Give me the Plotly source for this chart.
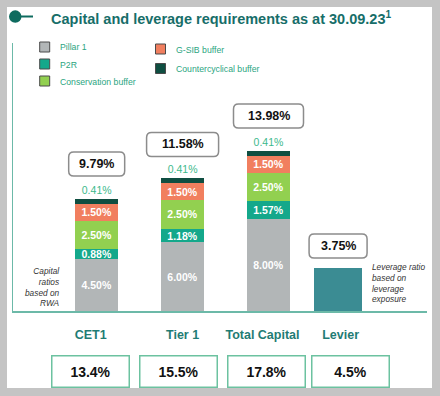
import plotly.graph_objects as go

# ---------------- data ----------------
CATEGORIES = ["CET1", "Tier 1", "Total Capital", "Levier"]
SERIES_NAMES = ["Pillar 1", "P2R", "Conservation buffer", "G-SIB buffer", "Countercyclical buffer"]
PILLAR1 = [4.50, 6.00, 8.00, None]
P2R = [0.88, 1.18, 1.57, None]
CONSERVATION = [2.50, 2.50, 2.50, None]
GSIB = [1.50, 1.50, 1.50, None]
CCYB = [0.41, 0.41, 0.41, None]
LEVERAGE = [None, None, None, 3.75]
TOTALS = [9.79, 11.58, 13.98, 3.75]
ACTUALS = [13.4, 15.5, 17.8, 4.5]
TITLE = "Capital and leverage requirements as at 30.09.23<sup>1</sup>"
NOTE_LEFT = "Capital<br>ratios<br>based on<br>RWA"
NOTE_RIGHT = "Leverage ratio<br>based on<br>leverage<br>exposure"

# ---------------- layout / style ----------------
W, H = 440, 396
L, R, T, B = 13, 13, 43, 85
PW, PH = W - L - R, H - T - B
BASE = H - B


def fx(px):
    return (px - L) / PW


def fy(py):
    return (BASE - py) / PH


X_POS = [0, 1, 2, 2.81]
LABEL_POS = [-0.07, 1.0, 1.93, 2.84]
BOX_POS = [-0.072, 0.958, 1.971, 2.955]
X_RANGE = [-0.974, 3.845]
Y_RANGE = [0, PH / 11.45]
BAR_W = 0.5
LEV_W = 0.56
TOTAL_OFFSETS = [35, 34, 35, 22]
TOTAL_BOX_W = [56, 72, 70, 58]
TOTAL_BOX_H = 24

COLORS = ["#b2b6b7", "#14a88b", "#92d050", "#f17f5f", "#0f4e41"]
LEV_COLOR = "#3b8c93"
TEAL_LINE = "#6cb9a8"
TITLE_COLOR = "#176e69"
LEGEND_TXT = "#2ba57f"
FONT = "Liberation Sans, Arial, sans-serif"


def present(vals):
    xs = [x for x, v in zip(X_POS, vals) if v is not None]
    ys = [v for v in vals if v is not None]
    return xs, ys


fig = go.Figure()

series = [PILLAR1, P2R, CONSERVATION, GSIB]
for name, vals, col in zip(SERIES_NAMES[:4], series, COLORS[:4]):
    xs, ys = present(vals)
    fig.add_trace(go.Bar(
        x=xs, y=ys, name=name, width=BAR_W, marker=dict(color=col, line=dict(width=0)),
        texttemplate="%{y:.2f}%", textposition="inside", insidetextanchor="middle",
        textangle=0, constraintext="none",
        textfont=dict(color="white", size=10.5, family=FONT, weight="bold"),
        showlegend=False, hoverinfo="skip",
    ))

xs, ys = present(CCYB)
fig.add_trace(go.Bar(
    x=xs, y=ys, name=SERIES_NAMES[4], width=BAR_W, marker=dict(color=COLORS[4], line=dict(width=0)),
    texttemplate="%{y:.2f}%", textposition="outside", textangle=0, constraintext="none",
    textfont=dict(color="#3cb98c", size=10.5, family=FONT),
    cliponaxis=False, showlegend=False, hoverinfo="skip",
))

xs, ys = present(LEVERAGE)
fig.add_trace(go.Bar(
    x=xs, y=ys, name="Levier", width=LEV_W, marker=dict(color=LEV_COLOR, line=dict(width=0)),
    showlegend=False, hoverinfo="skip",
))

shapes = []
annotations = []

# white panel
shapes.append(dict(type="rect", xref="paper", yref="paper", x0=fx(7), x1=fx(432), y0=fy(388), y1=fy(7),
                   fillcolor="white", line=dict(width=0), layer="below"))

# title marker
shapes.append(dict(type="line", xref="paper", yref="paper", x0=fx(15), x1=fx(33), y0=fy(16.5), y1=fy(16.5),
                   line=dict(color="#0e6b5f", width=2)))
shapes.append(dict(type="circle", xref="paper", yref="paper", x0=fx(9), x1=fx(21.5), y0=fy(10.3), y1=fy(22.8),
                   fillcolor="#0e6b5f", line=dict(width=0)))
annotations.append(dict(text=TITLE, xref="paper", yref="paper", x=fx(49), y=fy(18.5), xanchor="left",
                        yanchor="middle", showarrow=False,
                        font=dict(family=FONT, size=14.5, color=TITLE_COLOR, weight="bold")))

# manual legend
LEG_PLACES = [(44.7, 47), (44.7, 64), (44.7, 81), (160.5, 49), (160.5, 68.5)]
for name, col, (cx, cy) in zip(SERIES_NAMES, COLORS, LEG_PLACES):
    shapes.append(dict(type="rect", xref="paper", yref="paper", x0=fx(cx - 5), x1=fx(cx + 5),
                       y0=fy(cy + 5), y1=fy(cy - 5), fillcolor=col, line=dict(color="#4a4a4a", width=1)))
    annotations.append(dict(text=name, xref="paper", yref="paper", x=fx(cx + 13.5), y=fy(cy + 0.5),
                            xanchor="left", yanchor="middle", showarrow=False,
                            font=dict(family=FONT, size=8.7, color=LEGEND_TXT)))

# total labels in rounded boxes
for xp, tot, off, bw in zip(X_POS, TOTALS, TOTAL_OFFSETS, TOTAL_BOX_W):
    w2, h2, r = bw / 2, TOTAL_BOX_H / 2, 5
    y0, y1 = off - h2, off + h2
    path = (f"M {-w2 + r},{y0} L {w2 - r},{y0} Q {w2},{y0} {w2},{y0 + r} L {w2},{y1 - r} "
            f"Q {w2},{y1} {w2 - r},{y1} L {-w2 + r},{y1} Q {-w2},{y1} {-w2},{y1 - r} "
            f"L {-w2},{y0 + r} Q {-w2},{y0} {-w2 + r},{y0} Z")
    shapes.append(dict(type="path", xref="x", yref="y", xsizemode="pixel", ysizemode="pixel",
                       xanchor=xp, yanchor=tot, path=path, fillcolor="white",
                       line=dict(color="#8c8c8c", width=1.5)))
    annotations.append(dict(text=f"{tot:.2f}%", x=xp, y=tot, xref="x", yref="y", yshift=off,
                            showarrow=False, xanchor="center", yanchor="middle",
                            font=dict(family=FONT, size=12.5, color="#111111", weight="bold")))

# actual ratios boxes
for xp, val in zip(BOX_POS, ACTUALS):
    annotations.append(dict(text=f"{val:.1f}%", x=xp, y=fy(371), xref="x", yref="paper",
                            showarrow=False, xanchor="center", yanchor="middle",
                            width=74, height=28, borderpad=1, bordercolor="#6cc2a0", borderwidth=1.5,
                            bgcolor="white",
                            font=dict(family=FONT, size=14, color="#111111", weight="bold")))

# side notes
annotations.append(dict(text=NOTE_LEFT, xref="paper", yref="paper", x=fx(61.5), y=fy(287), xanchor="right",
                        yanchor="middle", align="right", showarrow=False,
                        font=dict(family=FONT, size=8.3, color="#333333", style="italic")))
annotations.append(dict(text=NOTE_RIGHT, xref="paper", yref="paper", x=fx(369.5), y=fy(282.5), xanchor="left",
                        yanchor="middle", align="left", showarrow=False,
                        font=dict(family=FONT, size=8.3, color="#333333", style="italic")))

fig.update_layout(
    width=W, height=H, margin=dict(l=L, r=R, t=T, b=B, pad=0),
    barmode="stack", bargap=0,
    paper_bgcolor="#c4c4c4", plot_bgcolor="rgba(0,0,0,0)",
    showlegend=False,
    shapes=shapes, annotations=annotations,
    xaxis=dict(range=X_RANGE, showgrid=False, zeroline=False, showline=True, linecolor=TEAL_LINE,
               linewidth=1.5, tickvals=LABEL_POS, ticktext=CATEGORIES, ticks="",
               ticklabelstandoff=11,
               tickfont=dict(family=FONT, size=12.5, color="#1f7c74", weight="bold"), fixedrange=True),
    yaxis=dict(range=Y_RANGE, showgrid=False, zeroline=False, showline=True, linecolor=TEAL_LINE,
               linewidth=1.5, showticklabels=False, ticks="", fixedrange=True),
    font=dict(family=FONT),
)

fig.write_html(
    "out.html",
    config={"displayModeBar": False, "staticPlot": True},
    post_script="document.body.style.margin='0';document.body.style.overflow='hidden';",
)
